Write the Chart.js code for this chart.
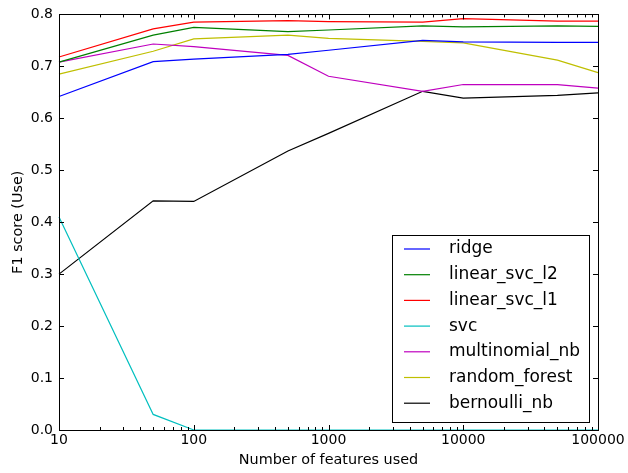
<!DOCTYPE html>
<html>
<head>
<meta charset="utf-8">
<script src="https://cdn.jsdelivr.net/npm/chart.js@4/dist/chart.umd.min.js"></script>
<style>
  html, body { margin: 0; padding: 0; background: #fff; }
</style>
</head>
<body>
<canvas id="c" width="628" height="473"></canvas>
<script>
// number of features on the x axis (log scale)
const features = [10, 50, 100, 500, 1000, 5000, 10000, 50000, 100000];

const ridge          = [0.642, 0.709, 0.714, 0.723, 0.731, 0.750, 0.747, 0.746, 0.746];
const linearSvcL2    = [0.708, 0.760, 0.775, 0.767, 0.770, 0.778, 0.776, 0.778, 0.777];
const linearSvcL1    = [0.718, 0.772, 0.785, 0.788, 0.786, 0.785, 0.792, 0.787, 0.787];
const svc            = [0.410, 0.030, 0.000, 0.000, 0.000, 0.000, 0.000, 0.000, 0.000];
const multinomialNb  = [0.708, 0.743, 0.738, 0.721, 0.681, 0.652, 0.665, 0.665, 0.658];
const randomForest   = [0.685, 0.729, 0.753, 0.760, 0.754, 0.748, 0.745, 0.712, 0.688];
const bernoulliNb    = [0.300, 0.441, 0.440, 0.537, 0.571, 0.652, 0.639, 0.644, 0.649];

const xTicks = [10, 100, 1000, 10000, 100000];
const yTicks = [0.0, 0.1, 0.2, 0.3, 0.4, 0.5, 0.6, 0.7, 0.8];

const FONT = "'DejaVu Sans', sans-serif";

const series = [
  ["ridge", ridge, "#0000ff"],
  ["linear_svc_l2", linearSvcL2, "#008000"],
  ["linear_svc_l1", linearSvcL1, "#ff0000"],
  ["svc", svc, "#00bfbf"],
  ["multinomial_nb", multinomialNb, "#bf00bf"],
  ["random_forest", randomForest, "#bfbf00"],
  ["bernoulli_nb", bernoulliNb, "#000000"],
];

// inward ticks on all four sides + the axes frame
const frameTicks = {
  id: "frameTicks",
  afterDatasetsDraw(chart) {
    const { ctx, chartArea: a, scales: { x, y } } = chart;
    ctx.save();
    ctx.strokeStyle = "#000";
    ctx.lineWidth = 1;
    ctx.beginPath();
    const minorX = [];
    for (let e = 1; e < 5; e++) for (let k = 2; k <= 9; k++) minorX.push(k * Math.pow(10, e));
    minorX.forEach(v => {
      const px = Math.round(x.getPixelForValue(v)) + 0.5;
      ctx.moveTo(px, a.bottom); ctx.lineTo(px, a.bottom - 3);
      ctx.moveTo(px, a.top); ctx.lineTo(px, a.top + 3);
    });
    xTicks.forEach(v => {
      const px = Math.round(x.getPixelForValue(v)) + 0.5;
      ctx.moveTo(px, a.bottom); ctx.lineTo(px, a.bottom - 5);
      ctx.moveTo(px, a.top); ctx.lineTo(px, a.top + 5);
    });
    yTicks.forEach(v => {
      const py = Math.round(y.getPixelForValue(v)) + 0.5;
      ctx.moveTo(a.left, py); ctx.lineTo(a.left + 5, py);
      ctx.moveTo(a.right, py); ctx.lineTo(a.right - 5, py);
    });
    ctx.stroke();
    ctx.strokeRect(Math.round(a.left) + 0.5, Math.round(a.top) + 0.5,
      Math.round(a.right - a.left), Math.round(a.bottom - a.top));
    ctx.restore();
  }
};

// boxed legend in the lower right corner of the plot
const legendBox = {
  id: "legendBox",
  afterDraw(chart) {
    const { ctx, chartArea: a } = chart;
    const w = 197, h = 187;
    const bx = a.right - 9 - w, by = a.bottom - 8 - h;
    ctx.save();
    ctx.fillStyle = "#fff";
    ctx.fillRect(bx, by, w, h);
    ctx.strokeStyle = "#000";
    ctx.lineWidth = 1;
    ctx.strokeRect(Math.round(bx) + 0.5, Math.round(by) + 0.5, w, h);
    ctx.font = "17px " + FONT;
    ctx.textBaseline = "middle";
    chart.data.datasets.forEach((ds, i) => {
      const ry = by + 14 + i * 25.7;
      ctx.strokeStyle = ds.borderColor;
      ctx.lineWidth = 1.2;
      ctx.beginPath();
      ctx.moveTo(bx + 12, ry); ctx.lineTo(bx + 38, ry);
      ctx.stroke();
      ctx.fillStyle = "#000";
      ctx.fillText(ds.label, bx + 57, ry);
    });
    ctx.restore();
  }
};

new Chart(document.getElementById("c"), {
  type: "line",
  data: {
    datasets: series.map(([label, vals, color]) => ({
      label,
      data: features.map((f, i) => ({ x: f, y: vals[i] })),
      borderColor: color,
      backgroundColor: color,
      borderWidth: 1.2,
      pointRadius: 0,
      tension: 0,
      fill: false,
      clip: false,
    })),
  },
  options: {
    responsive: false,
    animation: false,
    devicePixelRatio: 1,
    layout: { padding: { top: 12, right: 30, left: 0, bottom: 0 } },
    plugins: { legend: { display: false }, tooltip: { enabled: false } },
    scales: {
      x: {
        type: "logarithmic",
        min: 10,
        max: 100000,
        afterBuildTicks: s => { s.ticks = xTicks.map(v => ({ value: v })); },
        afterFit: s => { s.height = 43; },
        grid: { display: false, drawTicks: false },
        border: { display: false },
        ticks: {
          autoSkip: false, maxRotation: 0, padding: 2,
          color: "#000", font: { family: FONT, size: 14 },
          callback: v => String(v),
        },
        title: {
          display: true, text: "Number of features used",
          color: "#000", font: { family: FONT, size: 14.4 },
          padding: { top: 0, bottom: 4 },
        },
      },
      y: {
        min: 0,
        max: 0.8,
        afterBuildTicks: s => { s.ticks = yTicks.map(v => ({ value: v })); },
        afterFit: s => { s.width = 59; },
        grid: { display: false, drawTicks: false },
        border: { display: false },
        ticks: {
          padding: 6,
          color: "#000", font: { family: FONT, size: 14 },
          callback: v => v.toFixed(1),
        },
        title: {
          display: true, text: "F1 score (Use)",
          color: "#000", font: { family: FONT, size: 14.4 },
          padding: { top: 10, bottom: 0 },
        },
      },
    },
  },
  plugins: [frameTicks, legendBox],
});
</script>
</body>
</html>
